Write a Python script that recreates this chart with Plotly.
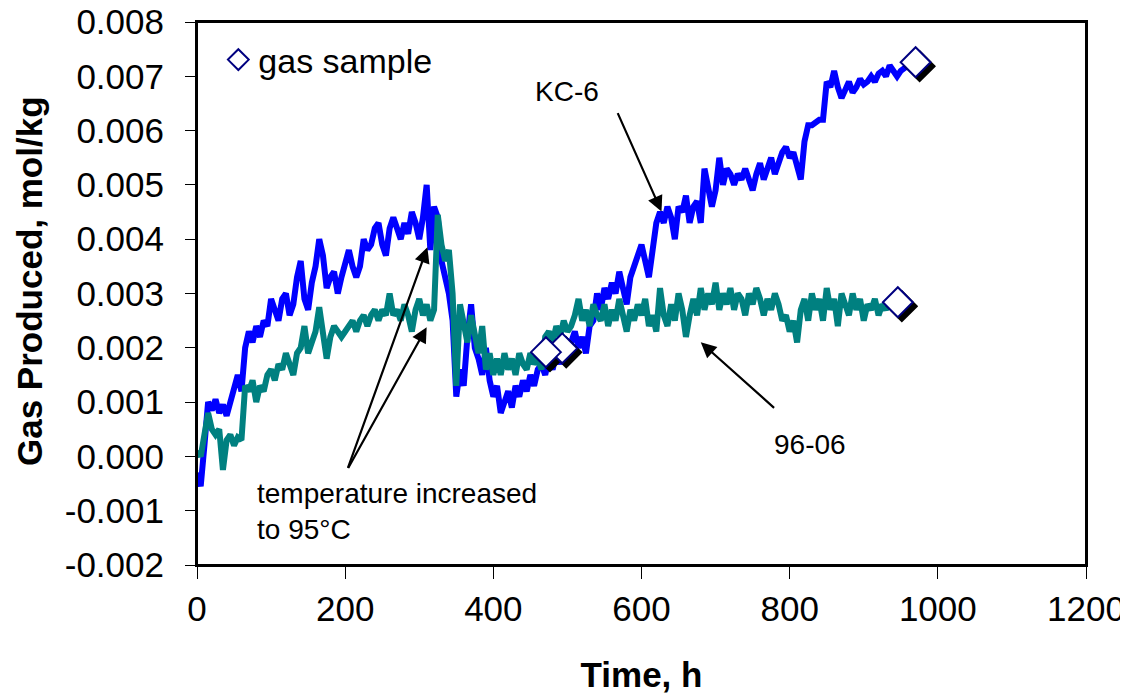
import plotly.graph_objects as go

# ---- data ----
# Gas produced, in mmol/kg, sampled every 5 h starting at t = 0 h
kc6_mmol = [
    -0.3, -0.55, 0.2, 1.0, 0.85, 1.05, 0.8, 0.95, 0.75, 1.0,
    1.3, 1.5, 1.2, 2.0, 2.3, 2.1, 2.4, 2.2, 2.5, 2.4,
    2.9, 2.7, 2.5, 2.9, 3.0, 2.6, 2.8, 3.3, 3.6, 2.9,
    2.7, 3.2, 3.5, 4.0, 3.7, 3.1, 3.3, 3.4, 3.0, 3.3,
    3.6, 3.8, 3.5, 3.3, 3.5, 4.0, 3.8, 3.9, 4.2, 4.3,
    3.9, 3.7, 4.2, 4.4, 4.2, 4.0, 4.3, 4.1, 4.5, 4.3,
    4.0, 4.4, 5.0, 3.8, 4.6, 4.4, 3.6, 3.3, 3.0, 2.5,
    1.1, 1.6, 1.3, 2.2, 2.8, 2.0, 1.8, 1.5, 2.0, 1.4,
    1.1, 1.3, 0.8, 1.0, 1.2, 0.9, 1.3, 1.1, 1.4, 1.2,
    1.5, 1.3, 1.6, 1.7, 1.5, 1.8, 1.6, 1.9, 1.7, 2.0,
    1.8, 2.1, 2.3, 2.0, 2.2, 1.9, 2.4, 2.5, 3.0, 2.7,
    3.1, 2.9, 3.2, 3.0, 3.4, 3.1, 2.8, 3.3, 3.5, 3.7,
    3.9, 3.6, 3.3, 3.8, 4.3, 4.5, 4.3, 4.6, 4.4, 4.0,
    4.6, 4.5, 4.8, 4.3, 4.6, 4.7, 4.3, 5.3, 4.9, 4.6,
    4.9, 5.5, 5.0, 5.3, 5.2, 5.0, 5.2, 5.1, 5.3, 5.1,
    4.9, 5.2, 5.4, 5.1, 5.3, 5.5, 5.2, 5.4, 5.6, 5.7,
    5.5, 5.6, 5.3, 5.1, 5.8, 6.1, 6.1, 6.15, 6.2, 6.2,
    6.9, 6.8, 7.1, 6.8, 6.6, 6.75, 6.9, 6.7, 6.8, 6.95,
    6.85, 6.9, 7.0, 6.9, 7.05, 7.1, 7.0, 7.2, 7.1, 7.0,
    7.1, 7.15, 7.2,
]

s9606_mmol = [
    0.1, 0.0, 0.4, 0.8, 0.5, 0.4, 0.5, -0.25, 0.3, 0.4,
    0.2, 0.35, 0.3, 1.3, 1.2, 1.4, 1.0, 1.3, 1.2, 1.5,
    1.6, 1.4, 1.7, 1.6, 1.9, 1.7, 1.5, 1.9, 2.0, 2.4,
    1.9, 2.1, 2.3, 2.75, 2.2, 1.8, 2.2, 2.4, 2.3, 2.2,
    2.3, 2.4, 2.5, 2.3, 2.5, 2.6, 2.4, 2.6, 2.7, 2.5,
    2.7, 2.6, 3.0, 2.6, 2.7, 2.5, 2.8, 2.6, 2.3, 2.7,
    2.9, 2.6, 2.8, 2.5, 2.7, 4.45, 3.9, 3.6, 3.8, 3.0,
    1.3, 2.8, 2.5, 2.1, 2.6, 2.3, 1.9, 2.4, 1.6, 1.9,
    1.5, 1.8, 1.5, 1.9, 1.6, 1.8, 1.5, 1.9, 1.7, 1.6,
    1.9, 1.7, 1.8, 1.6, 2.2, 2.3, 2.1, 2.4, 2.2, 2.5,
    2.3, 2.4, 2.6, 2.9, 2.5, 2.7, 2.4, 2.8, 2.6, 2.5,
    2.8, 2.4, 2.7, 2.5, 2.9, 2.6, 2.3, 2.7, 2.5, 2.8,
    2.6, 2.9, 2.4, 2.6, 2.3, 3.1, 2.6, 2.4, 2.8, 2.5,
    3.0, 2.7, 2.2, 2.6, 2.9, 2.6, 3.1, 2.7, 3.0, 2.8,
    3.2, 2.7, 3.0, 2.8, 3.1, 2.7, 3.0, 2.9, 2.6, 3.0,
    2.8, 3.1, 2.9, 2.6, 2.9, 2.7, 3.0, 2.8, 2.5, 2.6,
    2.3, 2.5, 2.1, 2.7, 2.9, 2.5, 3.0, 2.7, 2.9, 2.5,
    3.1, 2.7, 2.9, 2.4, 3.0, 2.8, 2.6, 3.0, 2.7, 2.9,
    2.5, 2.8, 2.7, 2.9, 2.6, 2.8, 2.7, 2.9, 2.7, 2.8,
]

sample_interval_h = 5
kc6_time = [i * sample_interval_h for i in range(len(kc6_mmol))]
s9606_time = [i * sample_interval_h for i in range(len(s9606_mmol))]
kc6 = [v / 1000 for v in kc6_mmol]
s9606 = [v / 1000 for v in s9606_mmol]

# gas sample points
sample_time = [493, 471, 946, 970]
sample_gas = [0.00199, 0.00192, 0.00284, 0.00726]

x_ticks = [0, 200, 400, 600, 800, 1000, 1200]
y_ticks = [-0.002, -0.001, 0.0, 0.001, 0.002, 0.003, 0.004, 0.005, 0.006, 0.007, 0.008]
y_ticktext = ["-0.002", "-0.001", "0.000", "0.001", "0.002", "0.003",
              "0.004", "0.005", "0.006", "0.007", "0.008"]

# ---- figure ----
FONT = "Liberation Sans, Arial, sans-serif"
# the page body has an 8 px margin, so the figure starts 8 px in from the corner
W, H = 1120, 686
ML, MR, MT, MB = 189, 42, 14, 129
plot_w = W - ML - MR
plot_h = H - MT - MB
x_rng = [0, 1200]
y_rng = [-0.002, 0.008]
# marker drop-shadow offset (4 px right, 4 px down) in data units
sh_dx = 4 * (x_rng[1] - x_rng[0]) / plot_w
sh_dy = 4 * (y_rng[1] - y_rng[0]) / plot_h

fig = go.Figure()
fig.add_trace(go.Scatter(x=kc6_time, y=kc6, mode="lines", name="KC-6",
                         line=dict(color="#0000FF", width=6), showlegend=False))
fig.add_trace(go.Scatter(x=s9606_time, y=s9606, mode="lines", name="96-06",
                         line=dict(color="#008080", width=6), showlegend=False))
fig.add_trace(go.Scatter(x=[t + sh_dx for t in sample_time],
                         y=[g - sh_dy for g in sample_gas], mode="markers",
                         marker=dict(symbol="diamond", size=23, color="black",
                                     line=dict(color="black", width=2)),
                         showlegend=False, hoverinfo="skip"))
fig.add_trace(go.Scatter(x=sample_time, y=sample_gas, mode="markers", name="gas sample",
                         marker=dict(symbol="diamond", size=23, color="white",
                                     line=dict(color="#000080", width=2)),
                         showlegend=True))

ann_font = dict(family=FONT, size=28, color="black")
arrows = [
    # (head_t, head_v, tail_t, tail_v)
    (627, 0.00451, 567, 0.00635),
    (680, 0.00210, 781, 0.00087),
    (311, 0.00385, 203, -0.00024),
    (310, 0.00238, 203, -0.00024),
]
for ht, hv, tt, tv in arrows:
    fig.add_annotation(x=ht, y=hv, ax=tt, ay=tv, xref="x", yref="y",
                       axref="x", ayref="y", text="", showarrow=True,
                       arrowhead=2, arrowsize=1.4, arrowwidth=2.2, arrowcolor="black")

fig.add_annotation(x=499, y=0.00672, xref="x", yref="y", text="KC-6",
                   showarrow=False, font=ann_font)
fig.add_annotation(x=828, y=0.00022, xref="x", yref="y", text="96-06",
                   showarrow=False, font=ann_font)
fig.add_annotation(x=78, y=-0.00037, xref="x", yref="y",
                   text="temperature increased<br>to 95°C", showarrow=False,
                   align="left", xanchor="left", yanchor="top", font=ann_font)

# y-axis title, placed like the original (left of the tick labels)
fig.add_annotation(x=0, y=0.523, xref="paper", yref="paper", xshift=-168,
                   text="<b>Gas Produced, mol/kg</b>", textangle=-90,
                   showarrow=False, xanchor="center", yanchor="middle",
                   font=dict(family=FONT, size=35, color="black"))

# plot-area frame
fig.add_shape(type="rect", xref="paper", yref="paper", x0=0, x1=1, y0=0, y1=1,
              line=dict(color="black", width=2), fillcolor="rgba(0,0,0,0)",
              layer="above")

fig.update_layout(
    width=W, height=H,
    margin=dict(l=ML, r=MR, t=MT, b=MB, pad=0, autoexpand=False),
    paper_bgcolor="white", plot_bgcolor="white",
    font=dict(family=FONT, size=35, color="black"),
    legend=dict(x=0.024, y=0.93, xanchor="left", yanchor="middle",
                bgcolor="rgba(0,0,0,0)", font=dict(family=FONT, size=34, color="black"),
                itemsizing="trace"),
    xaxis=dict(range=x_rng, tickvals=x_ticks, ticks="outside", ticklen=12,
               tickwidth=1, tickcolor="black", showline=True, linecolor="black",
               linewidth=2, mirror=True, showgrid=False, zeroline=False,
               automargin=False, ticklabeloverflow="allow",
               tickfont=dict(family=FONT, size=35),
               title=dict(text="<b>Time, h</b>", font=dict(family=FONT, size=35),
                          standoff=36)),
    yaxis=dict(range=y_rng, tickvals=y_ticks, ticktext=y_ticktext, ticks="outside",
               ticklen=10, tickwidth=1, tickcolor="black", showline=True,
               linecolor="black", linewidth=2, mirror=True, showgrid=False,
               zeroline=False, automargin=False, ticklabeloverflow="allow",
               ticklabelstandoff=14, tickfont=dict(family=FONT, size=35)),
)

fig.write_html("out.html")
